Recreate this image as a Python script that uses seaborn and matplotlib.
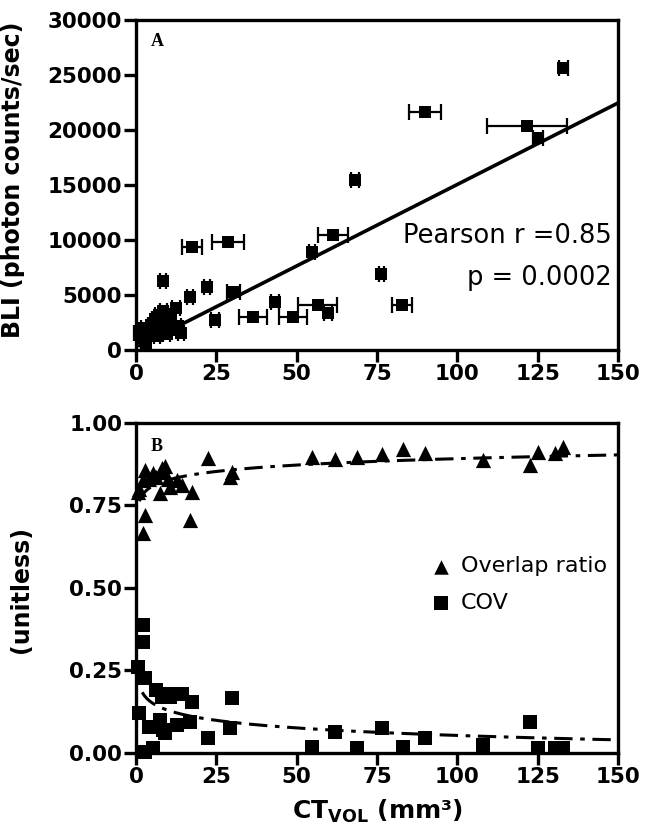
import numpy as np
import pandas as pd
import matplotlib
matplotlib.use("Agg")
import matplotlib.pyplot as plt
import seaborn as sns

# Panel A: BLI vs CT volume (mean +/- SD on CT volume)
ct_a = [133, 90, 121.7, 125.1, 68.2, 61.3, 54.8, 28.6, 17.4, 8.4, 22.0, 30.2, 16.8, 24.6,
        36.4, 43.3, 48.9, 56.5, 59.8, 76.3, 82.8,
        1.5, 2.0, 2.5, 3.0, 3.5, 4.5, 5.0, 6.0, 7.0, 8.0, 8.5, 9.5, 10.0, 11.0, 12.0, 13.0,
        14.0, 12.5, 10.5, 6.5]
bli_a = [25630, 21630, 20360, 19270, 15450, 10450, 8900, 9800, 9360, 6300, 5730, 5270, 4820, 2730,
         3000, 4360, 3000, 4090, 3360, 6900, 4090,
         1600, 1100, 2000, 700, 1500, 2300, 1800, 2800, 3200, 2500, 3600, 1500, 2300, 3300, 1800, 2200,
         1600, 3800, 2600, 1300]
ct_a_err = [1.5, 5.0, 12.5, 1.5, 1.2, 4.6, 1.0, 5.0, 3.0, 0.8, 1.0, 2.0, 1.0, 1.2,
            4.5, 1.2, 4.4, 6.0, 1.2, 0.8, 3.0,
            2.0, 0.8, 1.0, 0.5, 1.0, 0.8, 0.8, 1.0, 1.0, 1.0, 1.0, 1.0, 1.0, 1.0, 1.0, 1.0,
            1.0, 1.2, 1.0, 1.0]
lin_slope = 148.0
lin_intercept = 260.0

# Panel B: overlap ratio and COV vs CT volume
ct_b = [0.6, 1.0, 2.2, 2.2, 2.8, 2.8, 4.0, 5.3, 6.2, 7.5, 8.0, 8.5, 9.0, 9.8, 10.6, 12.8,
        14.3, 16.8, 17.4, 22.4, 29.3, 29.9, 54.8, 62.0, 68.8, 76.5, 83.0, 90.0, 108.0,
        122.6, 125.0, 130.4, 133.0]
overlap = [0.79, 0.80, 0.827, 0.667, 0.857, 0.72, 0.83, 0.848, 0.836, 0.788, 0.864, 0.85, 0.87,
           0.83, 0.806, 0.827, 0.812, 0.706, 0.791, 0.894, 0.836, 0.85, 0.897, 0.89, 0.897,
           0.906, 0.921, 0.909, 0.888, 0.873, 0.912, 0.909, 0.927]
cov = [0.261, 0.12, 0.388, 0.336, 0.227, 0.003, 0.08, 0.015, 0.19, 0.1, 0.17, 0.07, 0.06,
       0.18, 0.17, 0.085, 0.18, 0.094, 0.155, 0.045, 0.076, 0.167, 0.018, 0.064, 0.015,
       0.076, 0.018, 0.045, 0.024, 0.094, 0.015, 0.015, 0.015]
# logarithmic fits: y = a + b * ln(x)
overlap_fit = (0.763, 0.028)
cov_fit = (0.205, -0.033)

sns.set_theme(style="ticks")
plt.rcParams["font.family"] = ["DejaVu Sans"]
plt.rcParams["mathtext.fontset"] = "custom"
plt.rcParams["mathtext.rm"] = "DejaVu Sans:bold"
plt.rcParams["mathtext.bf"] = "DejaVu Sans:bold"
for key in ("text.color", "axes.labelcolor", "xtick.color", "ytick.color", "xtick.labelcolor",
            "ytick.labelcolor"):
    plt.rcParams[key] = "black"

fig = plt.figure(figsize=(6.67, 8.32), dpi=100)
axA = fig.add_axes([0.204, 0.579, 0.7225, 0.397])
axB = fig.add_axes([0.204, 0.095, 0.7225, 0.3966])

# ---- panel A ----
fit_x = np.linspace(1, 150, 50)
sns.lineplot(x=fit_x, y=lin_intercept + lin_slope * fit_x, ax=axA, color="black", linewidth=2.6)
axA.errorbar(ct_a, bli_a, xerr=ct_a_err, fmt="none", ecolor="black", elinewidth=1.6,
             capsize=5.5, capthick=1.6, clip_on=False, zorder=3)
sns.scatterplot(x=ct_a, y=bli_a, ax=axA, marker="s", s=80, color="black", linewidth=0,
                zorder=4, clip_on=False)
axA.set_xlim(0, 150)
axA.set_ylim(0, 30000)
axA.set_xticks([0, 25, 50, 75, 100, 125, 150])
axA.set_yticks([0, 5000, 10000, 15000, 20000, 25000, 30000])
axA.set_ylabel("BLI (photon counts/sec)", fontsize=17, fontweight="bold")
axA.yaxis.set_label_coords(-0.23, 0.515)
axA.text(0.988, 0.345, "Pearson r =0.85", transform=axA.transAxes, ha="right", va="center",
         fontsize=18.5)
axA.text(0.988, 0.218, "p = 0.0002", transform=axA.transAxes, ha="right", va="center",
         fontsize=18.5)
axA.text(0.03, 0.935, "A", transform=axA.transAxes, fontsize=13, fontweight="bold",
         family="Liberation Serif", va="center")

# ---- panel B ----
fx = np.linspace(1, 150, 200)
sns.lineplot(x=fx, y=overlap_fit[0] + overlap_fit[1] * np.log(fx), ax=axB, color="black",
             linewidth=2.2)
axB.lines[-1].set_dashes([6, 2.5, 1.5, 2.5])
fx2 = np.linspace(1.9, 150, 200)
sns.lineplot(x=fx2, y=cov_fit[0] + cov_fit[1] * np.log(fx2), ax=axB, color="black",
             linewidth=2.2)
axB.lines[-1].set_dashes([6, 2.5, 1.5, 2.5])
sns.scatterplot(x=ct_b, y=overlap, ax=axB, marker="^", s=120, color="black", linewidth=0,
                zorder=4, clip_on=False, label="Overlap ratio")
sns.scatterplot(x=ct_b, y=cov, ax=axB, marker="s", s=100, color="black", linewidth=0,
                zorder=4, clip_on=False, label="COV")
axB.set_xlim(0, 150)
axB.set_ylim(0, 1.0)
axB.set_xticks([0, 25, 50, 75, 100, 125, 150])
axB.set_yticks([0, 0.25, 0.5, 0.75, 1.0])
axB.set_yticklabels(["0.00", "0.25", "0.50", "0.75", "1.00"])
axB.set_ylabel("(unitless)", fontsize=17, fontweight="bold")
axB.yaxis.set_label_coords(-0.214, 0.494)
axB.set_xlabel(r"CT$_{\mathregular{VOL}}$ (mm³)", fontsize=18, fontweight="bold", labelpad=8)
axB.text(0.03, 0.93, "B", transform=axB.transAxes, fontsize=13, fontweight="bold",
         family="Liberation Serif", va="center")
axB.legend(loc="center left", bbox_to_anchor=(0.563, 0.51), frameon=False, fontsize=16,
           handletextpad=0.3, handlelength=1.2, labelspacing=0.75, markerscale=0.95)

for ax in (axA, axB):
    for sp in ax.spines.values():
        sp.set_linewidth(2.4)
        sp.set_color("black")
    ax.tick_params(axis="both", which="major", length=8.5, width=2.4, color="black",
                   labelcolor="black", labelsize=15.5, pad=1.5, direction="out",
                   top=False, right=False)
    for lab in ax.get_xticklabels() + ax.get_yticklabels():
        lab.set_fontweight("bold")
    if ax is axA:
        ax.set_xlabel("")

fig.savefig("out.png", dpi=100)
